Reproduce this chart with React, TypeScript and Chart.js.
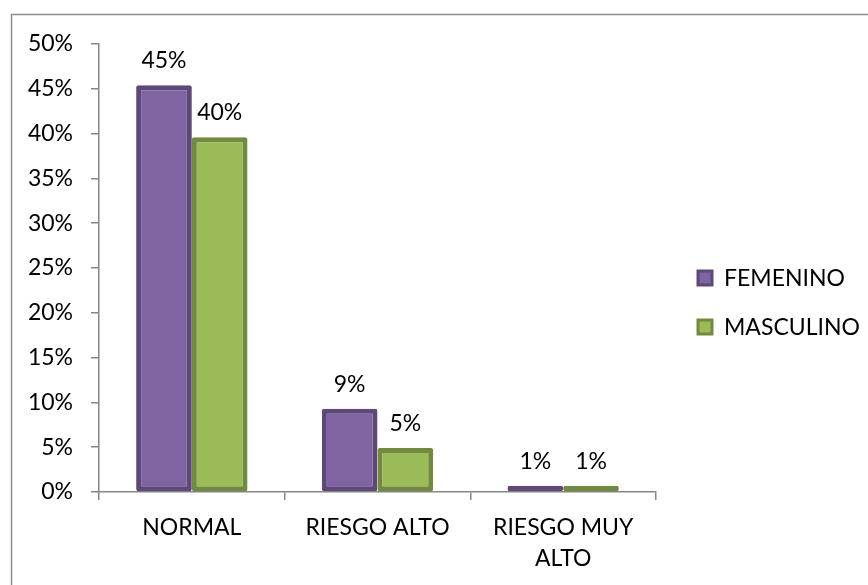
import React, { useEffect, useRef } from "react";
import { Chart, registerables } from "chart.js";

Chart.register(...registerables);

const categories: (string | string[])[] = ["NORMAL", "RIESGO ALTO", ["RIESGO MUY", "ALTO"]];
const femenino = [45.4, 9.3, 0.7];
const masculino = [39.6, 4.9, 0.7];
const yTicks = [0, 5, 10, 15, 20, 25, 30, 35, 40, 45, 50];

const FONT = "Lato, 'Open Sans', sans-serif";
const FSIZE = 23;
const AXIS = "#868686";

const frame = {
  id: "frame",
  beforeDraw(chart: any) {
    const ctx = chart.ctx;
    ctx.save();
    ctx.fillStyle = "#fff";
    ctx.fillRect(0, 0, chart.width, chart.height);
    ctx.strokeStyle = "#8c8c8c";
    ctx.lineWidth = 1.5;
    ctx.strokeRect(11.5, 14.5, 1000, 1000);
    ctx.restore();
  },
};

const valueLabels = {
  id: "valueLabels",
  afterDatasetsDraw(chart: any) {
    const ctx = chart.ctx;
    ctx.save();
    ctx.font = `${FSIZE}px ${FONT}`;
    ctx.fillStyle = "#000";
    ctx.textAlign = "center";
    ctx.textBaseline = "alphabetic";
    chart.data.datasets.forEach((ds: any, i: number) => {
      const meta = chart.getDatasetMeta(i);
      meta.data.forEach((bar: any, j: number) => {
        const v = ds.data[j];
        ctx.fillText(Math.round(v) + "%", bar.x, bar.y - 17);
      });
    });
    ctx.restore();
  },
};

const customLegend = {
  id: "customLegend",
  afterDraw(chart: any) {
    const ctx = chart.ctx;
    ctx.save();
    ctx.font = `${FSIZE}px ${FONT}`;
    ctx.textBaseline = "middle";
    ctx.textAlign = "left";
    const ys = [278, 327];
    chart.data.datasets.forEach((ds: any, i: number) => {
      const y = ys[i];
      ctx.fillStyle = ds.backgroundColor;
      ctx.strokeStyle = ds.borderColor;
      ctx.lineWidth = 3;
      ctx.fillRect(698, y - 7, 14, 14);
      ctx.strokeRect(698, y - 7, 14, 14);
      ctx.fillStyle = "#000";
      ctx.fillText(ds.label, 724, y + 1);
    });
    ctx.restore();
  },
};

export default function App() {
  const ref = useRef<HTMLCanvasElement>(null);
  useEffect(() => {
    if (!ref.current) return;
    const chart = new Chart(ref.current, {
      type: "bar",
      data: {
        labels: categories,
        datasets: [
          {
            label: "FEMENINO",
            data: femenino,
            backgroundColor: "#8064A2",
            borderColor: "#5D4878",
            borderWidth: 5,
            borderSkipped: false,
            borderRadius: 2,
            categoryPercentage: 0.6,
            barPercentage: 1,
          },
          {
            label: "MASCULINO",
            data: masculino,
            backgroundColor: "#9BBB59",
            borderColor: "#718A3F",
            borderWidth: 5,
            borderSkipped: false,
            borderRadius: 2,
            categoryPercentage: 0.6,
            barPercentage: 1,
          },
        ],
      },
      options: {
        responsive: false,
        animation: false,
        devicePixelRatio: 1,
        layout: { padding: { top: 44, right: 212, left: 0, bottom: 0 } },
        plugins: {
          legend: { display: false },
          tooltip: { enabled: false },
        },
        scales: {
          x: {
            grid: {
              offset: true,
              drawOnChartArea: false,
              drawTicks: true,
              tickLength: 8,
              color: AXIS,
              lineWidth: 1.5,
            },
            border: { color: AXIS, width: 1.5 },
            ticks: {
              color: "#000",
              font: { family: FONT, size: FSIZE, lineHeight: 1.35 },
              padding: 12,
              maxRotation: 0,
              autoSkip: false,
            },
            afterFit: (s: any) => {
              s.height = 93;
            },
          },
          y: {
            min: 0,
            max: 50,
            afterBuildTicks: (s: any) => {
              s.ticks = yTicks.map((v) => ({ value: v }));
            },
            grid: {
              drawOnChartArea: false,
              drawTicks: true,
              tickLength: 8,
              color: AXIS,
              lineWidth: 1.5,
            },
            border: { color: AXIS, width: 1.5 },
            ticks: {
              color: "#000",
              font: { family: FONT, size: FSIZE },
              padding: 18,
              callback: (v: any) => v + "%",
            },
            afterFit: (s: any) => {
              s.width = 99;
            },
          },
        },
      },
      plugins: [frame, valueLabels, customLegend],
    });
    return () => chart.destroy();
  }, []);
  return (
    <div style={{ position: "fixed", left: 0, top: 0, width: 868, height: 585, overflow: "hidden", background: "#fff" }}>
      <canvas ref={ref} width={868} height={585} style={{ width: 868, height: 585, display: "block" }} />
    </div>
  );
}
